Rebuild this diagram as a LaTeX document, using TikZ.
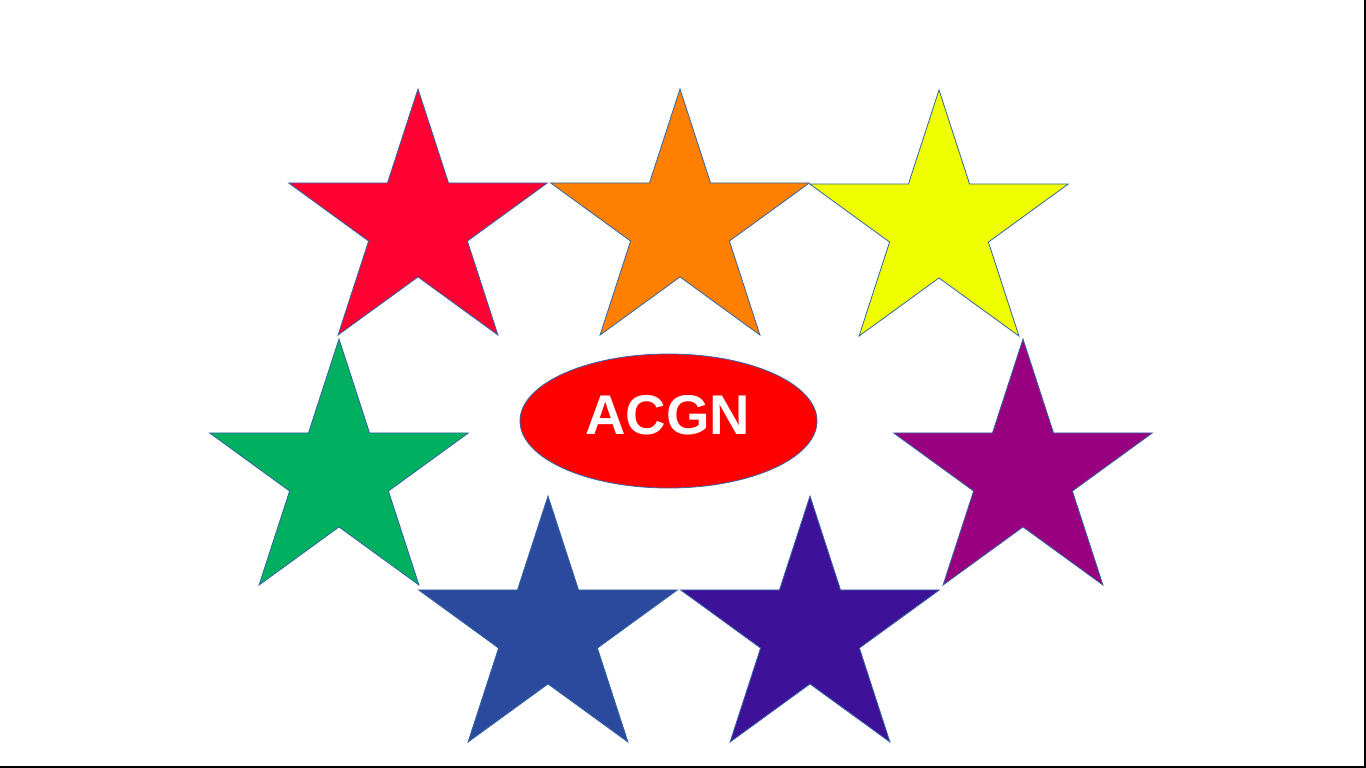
\documentclass[tikz,border=0pt]{standalone}
\usepackage{fontspec}
\setmainfont{Liberation Sans}
\usetikzlibrary{shapes.geometric}
\definecolor{outl}{RGB}{52,101,164}
\definecolor{sred}{RGB}{255,0,51}
\definecolor{sorange}{RGB}{255,128,0}
\definecolor{syellow}{RGB}{240,255,0}
\definecolor{sgreen}{RGB}{0,176,96}
\definecolor{spurple}{RGB}{153,0,128}
\definecolor{sblue}{RGB}{43,74,158}
\definecolor{sindigo}{RGB}{61,18,153}
\tikzset{
  bigstar/.style={star, star points=5, star point ratio=2.618, minimum size=272pt,
    inner sep=0pt, outer sep=0pt, draw=outl, line width=0.8pt, fill=#1},
  hub/.style={ellipse, minimum width=297pt, minimum height=134pt, inner sep=0pt,
    fill=red, draw=outl, line width=0.8pt},
  hubtext/.style={inner sep=0pt, text=white, font=\fontsize{56}{56}\selectfont\bfseries},
  frameline/.style={black, line width=2pt}
}
\begin{document}
\begin{tikzpicture}[x=1pt,y=1pt]
\useasboundingbox (0,0) rectangle (1366,-768);
\fill[white] (0,0) rectangle (1366,-768);
\node[bigstar=sred]    (s1) at (418,-225) {};
\node[bigstar=sorange] (s2) at (680,-225) {};
\node[bigstar=syellow] (s3) at (939,-226) {};
\node[bigstar=sgreen]  (s4) at (339,-475) {};
\node[bigstar=spurple] (s5) at (1023,-475) {};
\node[bigstar=sblue]   (s6) at (548,-632) {};
\node[bigstar=sindigo] (s7) at (810,-632) {};
\node[hub] (acgn) at (668.5,-421) {};
\node[hubtext] (acgnlabel) at (668,-415) {ACGN};
\coordinate (tr) at (1365,0);
\coordinate (br) at (1365,-767);
\coordinate (bl) at (0,-767);
\draw[frameline] (tr) -- (br) -- (bl);
\end{tikzpicture}
\end{document}
